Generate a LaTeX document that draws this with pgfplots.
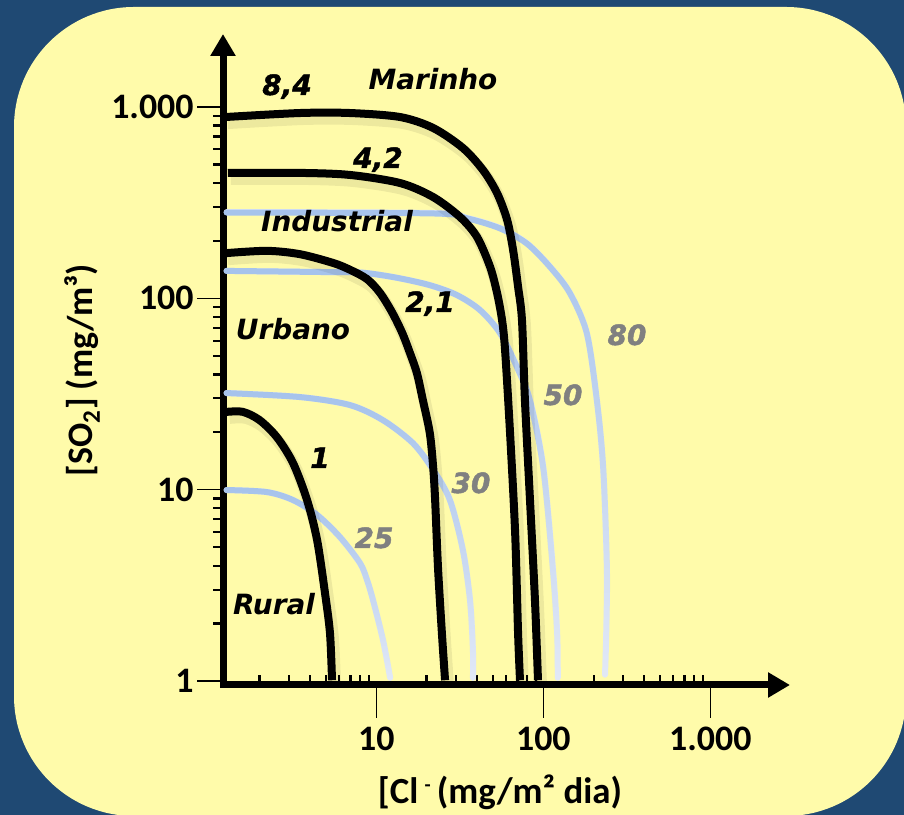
\documentclass[border=0pt]{standalone}
\usepackage{pgfplots}
\pgfplotsset{compat=1.18}
\usepackage{fontspec}
\usetikzlibrary{arrows.meta,fadings}
\setmainfont{Carlito}
\newfontfamily\labfont{DejaVu Sans}
\newfontfamily\numfont{DejaVu Sans}[BoldItalicFeatures={FakeBold=1.6}]
\definecolor{bgblue}{RGB}{31,73,115}
\definecolor{padyellow}{RGB}{255,251,170}
\definecolor{curveblue}{RGB}{166,195,236}
\definecolor{curvelight}{RGB}{226,233,247}
\definecolor{numgray}{RGB}{128,128,128}
\tikzfading[name=fadedown, top color=transparent!0, middle color=transparent!25, bottom color=transparent!100]
\begin{document}
\begin{tikzpicture}[x=1bp,y=1bp]
\useasboundingbox (0,0) rectangle (904,815);
\fill[bgblue] (0,0) rectangle (904,815);
\fill[padyellow, rounded corners=120bp] (14,-1) rectangle (906,808);
\begin{axis}[
  at={(223bp,130bp)}, anchor=south west,
  scale only axis, width=567bp, height=651bp,
  xmode=log, ymode=log,
  xmin=1.208, xmax=2999, ymin=0.954, ymax=2404,
  axis lines=left,
  axis line style={line width=7bp, line cap=rect},
  x axis line style={-{Triangle[length=22bp,width=24bp]}},
  y axis line style={-{Triangle[length=22bp,width=24bp]}},
  xtick={10,100,1000},
  xticklabels={},
  major x tick style={draw=none},
  minor xtick={2,3,4,5,6,7,8,9,20,30,40,50,60,70,80,90,200,300,400,500,600,700,800,900},
  xtick align=inside,
  extra x ticks={10,100,1000},
  extra x tick labels={10,100,1.000},
  extra x tick style={xtick align=outside, major tick length=33bp, major x tick style={draw=black, line width=1.3bp}},
  xticklabel style={yshift=-6bp},
  ytick={1,10,100,1000},
  yticklabels={1,10,100,1.000},
  minor ytick={2,3,4,5,6,7,8,9,20,30,40,50,60,70,80,90,200,300,400,500,600,700,800,900},
  ytick align=outside,
  major tick length=26bp, minor tick length=10bp,
  every major tick/.append style={line width=1.3bp, black},
  every minor tick/.append style={line width=2.2bp, black},
  tick label style={font=\bfseries\fontsize{36}{42}\selectfont},
  clip=false,
]
% blue curves: light base
\addplot[curvelight, line width=6bp, smooth, line cap=round] coordinates {(1.27,282) (21.9,279) (34.9,263) (55.1,233) (79.8,194) (110,146) (144,107) (182,65.9) (209,29.4) (228,13.1) (240,3.94) (238,1.78) (234,1.08)};
\addplot[curvelight, line width=6bp, smooth, line cap=round] coordinates {(1.27,139) (5.28,137) (8.32,136) (13.3,128) (21.0,117) (30.4,104) (41.8,86.9) (55.1,65.9) (69.6,43.8) (83.2,29.4) (100,13.1) (114,3.94) (121,1.78) (122,1.04)};
\addplot[curvelight, line width=6bp, smooth, line cap=round] coordinates {(1.27,32.0) (3.49,30.5) (6.95,27.7) (10.96,23.1) (16.6,17.5) (21.9,12.7) (27.6,8.83) (33.0,4.84) (36.4,2.65) (37.9,1.45) (37.9,1.04)};
\addplot[curvelight, line width=6bp, smooth, line cap=round] coordinates {(1.27,9.96) (2.21,9.72) (3.17,8.83) (4.42,7.38) (6.05,5.66) (7.98,4.14) (8.80,3.37) (9.55,2.65) (10.96,1.64) (12.1,1.04)};
% blue curves: faded colour on top
\addplot[curveblue, line width=6bp, smooth, line cap=round, path fading=fadedown] coordinates {(1.27,282) (21.9,279) (34.9,263) (55.1,233) (79.8,194) (110,146) (144,107) (182,65.9) (209,29.4) (228,13.1) (240,3.94) (238,1.78) (234,1.08)};
\addplot[curveblue, line width=6bp, smooth, line cap=round, path fading=fadedown] coordinates {(1.27,139) (5.28,137) (8.32,136) (13.3,128) (21.0,117) (30.4,104) (41.8,86.9) (55.1,65.9) (69.6,43.8) (83.2,29.4) (100,13.1) (114,3.94) (121,1.78) (122,1.04)};
\addplot[curveblue, line width=6bp, smooth, line cap=round, path fading=fadedown] coordinates {(1.27,32.0) (3.49,30.5) (6.95,27.7) (10.96,23.1) (16.6,17.5) (21.9,12.7) (27.6,8.83) (33.0,4.84) (36.4,2.65) (37.9,1.45) (37.9,1.04)};
\addplot[curveblue, line width=6bp, smooth, line cap=round, path fading=fadedown] coordinates {(1.27,9.96) (2.21,9.72) (3.17,8.83) (4.42,7.38) (6.05,5.66) (7.98,4.14) (8.80,3.37) (9.55,2.65) (10.96,1.64) (12.1,1.04)};
% soft shadows of the black curves
\begin{scope}[xshift=1.5bp, yshift=-3bp]
\addplot[black, opacity=0.07, line width=12bp, smooth] coordinates {(1.24,885) (3.49,929) (6.95,929) (13.9,885) (21.9,776) (33.0,610) (43.5,468) (52.8,355) (60.7,257) (65.9,179) (70.6,115) (74.5,77) (77.6,29.4) (83.2,8.83) (89.1,2.65) (92.9,1.01)};
\addplot[black, opacity=0.07, line width=12bp, smooth] coordinates {(1.29,452) (3.49,452) (6.95,441) (13.9,400) (21.9,338) (31.7,266) (40.1,209) (48.0,146) (52.8,107) (56.6,77) (59.0,53.7) (63.2,19.8) (67.8,5.94) (70.6,1.78) (72.5,1.01)};
\addplot[black, opacity=0.07, line width=12bp, smooth] coordinates {(1.24,172) (2.21,177) (3.49,170) (5.51,153) (6.95,141) (8.80,126) (10.5,107) (12.4,84.8) (14.3,65.9) (15.9,51.8) (17.5,40.7) (19.0,29.4) (20.9,19.8) (21.9,13.1) (22.5,8.83) (23.4,3.94) (24.7,1.78) (25.8,1.01)};
\addplot[black, opacity=0.07, line width=12bp, smooth] coordinates {(1.27,25.5) (1.59,25.5) (2.00,23.1) (2.54,18.8) (3.17,13.8) (3.85,8.83) (4.42,5.46) (4.93,2.88) (5.28,1.78) (5.43,1.01)};
\end{scope}
% black curves
\addplot[black, line width=8bp, smooth, line join=round] coordinates {(1.24,885) (3.49,929) (6.95,929) (13.9,885) (21.9,776) (33.0,610) (43.5,468) (52.8,355) (60.7,257) (65.9,179) (70.6,115) (74.5,77) (77.6,29.4) (83.2,8.83) (89.1,2.65) (92.9,1.01)};
\addplot[black, line width=8bp, smooth, line join=round] coordinates {(1.29,452) (3.49,452) (6.95,441) (13.9,400) (21.9,338) (31.7,266) (40.1,209) (48.0,146) (52.8,107) (56.6,77) (59.0,53.7) (63.2,19.8) (67.8,5.94) (70.6,1.78) (72.5,1.01)};
\addplot[black, line width=8bp, smooth, line join=round] coordinates {(1.24,172) (2.21,177) (3.49,170) (5.51,153) (6.95,141) (8.80,126) (10.5,107) (12.4,84.8) (14.3,65.9) (15.9,51.8) (17.5,40.7) (19.0,29.4) (20.9,19.8) (21.9,13.1) (22.5,8.83) (23.4,3.94) (24.7,1.78) (25.8,1.01)};
\addplot[black, line width=8bp, smooth, line join=round] coordinates {(1.27,25.5) (1.59,25.5) (2.00,23.1) (2.54,18.8) (3.17,13.8) (3.85,8.83) (4.42,5.46) (4.93,2.88) (5.28,1.78) (5.43,1.01)};
\end{axis}
% region and curve labels
\begin{scope}[every node/.style={anchor=base, inner sep=0pt, font=\labfont\bfseries\itshape\fontsize{28}{32}\selectfont}]
\node at (433,725) {Marinho};
\node at (337,583) {Industrial};
\node at (293,475) {Urbano};
\node at (274,200) {Rural};
\end{scope}
\begin{scope}[every node/.style={anchor=base, inner sep=0pt, font=\numfont\bfseries\itshape\fontsize{28}{32}\selectfont}]
\node at (287,720) {8,4};
\node at (378,647) {4,2};
\node at (430,503) {2,1};
\node at (320,347) {1};
\node[text=numgray] at (627,470) {80};
\node[text=numgray] at (563,410) {50};
\node[text=numgray] at (471,322) {30};
\node[text=numgray] at (374,267) {25};
\end{scope}
\node[anchor=base, inner sep=0pt, font=\bfseries\fontsize{37}{42}\selectfont] at (500,11) {[Cl\,{\fontsize{20}{20}\selectfont\raisebox{12bp}{-}}\,(mg/m² dia)};
\node[anchor=base, rotate=90, inner sep=0pt, font=\bfseries\fontsize{36}{42}\selectfont] at (92,445) {[SO\textsubscript{2}] (mg/m³)};
\end{tikzpicture}
\end{document}
